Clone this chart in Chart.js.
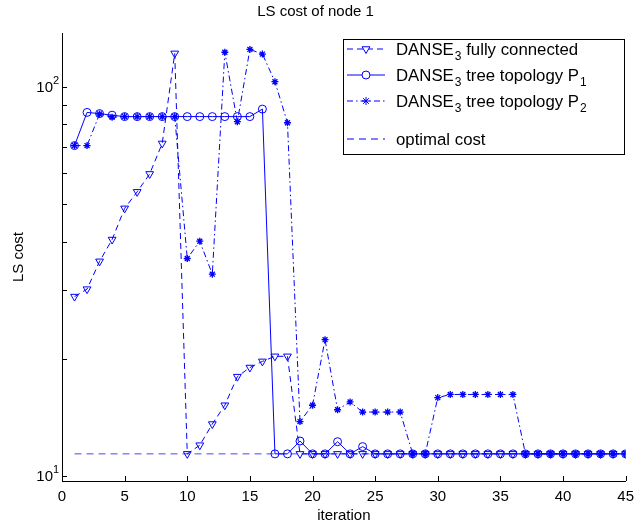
<!DOCTYPE html>
<html>
<head>
<meta charset="utf-8">
<script src="https://cdn.jsdelivr.net/npm/chart.js@4.4.0/dist/chart.umd.min.js"></script>
<style>
  html, body { margin: 0; padding: 0; background: #fff; }
</style>
</head>
<body>
<canvas id="ls-chart" width="641" height="525"></canvas>
<script>
// data
const iterations = [1, 2, 3, 4, 5, 6, 7, 8, 9, 10, 11, 12, 13, 14, 15, 16, 17, 18, 19, 20,
  21, 22, 23, 24, 25, 26, 27, 28, 29, 30, 31, 32, 33, 34, 35, 36, 37, 38, 39, 40,
  41, 42, 43, 44, 45];
const fullyConnected = [28.9, 30.2, 35.6, 40.5, 48.7, 53.7, 59.7, 71.5, 121.8, 11.4,
  12.0, 13.6, 15.2, 18.0, 19.0, 19.7, 20.3, 20.3, 11.4, 11.4,
  11.4, 11.4, 11.4, 11.4, 11.4, 11.4, 11.4, 11.4, 11.4, 11.4,
  11.4, 11.4, 11.4, 11.4, 11.4, 11.4, 11.4, 11.4, 11.4, 11.4,
  11.4, 11.4, 11.4, 11.4, 11.4];
const treeP1 = [70.6, 85.9, 85.3, 84.5, 83.8, 83.8, 83.8, 83.8, 83.8, 83.8,
  83.8, 83.8, 83.8, 83.8, 83.8, 87.6, 11.4, 11.4, 12.3, 11.4,
  11.4, 12.25, 11.4, 11.9, 11.4, 11.4, 11.4, 11.4, 11.4, 11.4,
  11.4, 11.4, 11.4, 11.4, 11.4, 11.4, 11.4, 11.4, 11.4, 11.4,
  11.4, 11.4, 11.4, 11.4, 11.4];
const treeP2 = [70.6, 70.6, 85.1, 83.5, 83.8, 83.8, 83.8, 83.8, 83.8, 36.2,
  40.1, 33.0, 122.6, 81.3, 124.7, 121.3, 103.0, 80.8, 13.8, 15.2,
  22.4, 14.8, 15.5, 14.6, 14.6, 14.6, 14.6, 11.4, 11.4, 15.9,
  16.2, 16.2, 16.2, 16.2, 16.2, 16.2, 11.4, 11.4, 11.4, 11.4,
  11.4, 11.4, 11.4, 11.4, 11.4];
const optimalIter = [1, 45];
const optimalCost = [11.4, 11.4];

const xTicks = [0, 5, 10, 15, 20, 25, 30, 35, 40, 45];
const yTicks = [10, 20, 30, 40, 50, 60, 70, 80, 90, 100];
const yLabels = { 10: "1", 100: "2" }; // exponent of 10
const yMin = 9.71;
const yMax = 137.4;

const FONT = "'Liberation Sans', Arial, sans-serif";
const BLUE = "#0000ff";

const toPoints = (xs, ys) => xs.map((x, i) => ({ x: x, y: ys[i] }));

// legend entries (drawn by hand because of the subscripts)
const legendItems = [
  { main: "DANSE", sub: "3", rest: " fully connected", sub2: "", dash: [6, 4], style: "triangle", rot: 180, r: 4.5 },
  { main: "DANSE", sub: "3", rest: " tree topology P", sub2: "1", dash: [], style: "circle", rot: 0, r: 4 },
  { main: "DANSE", sub: "3", rest: " tree topology P", sub2: "2", dash: [6, 3, 1.5, 3], style: "star", rot: 0, r: 4 },
  { main: "optimal cost", sub: "", rest: "", sub2: "", dash: [7, 5], style: false, rot: 0, r: 0 }
];

//! inward ticks + y labels with exponents
const axisDecor = {
  id: "axisDecor",
  afterDraw(chart) {
    const ctx = chart.ctx;
    const xs = chart.scales.x;
    const ys = chart.scales.y;
    const area = chart.chartArea;
    ctx.save();
    ctx.strokeStyle = "#000";
    ctx.lineWidth = 1;
    ctx.beginPath();
    xTicks.forEach(v => {
      const px = Math.round(xs.getPixelForValue(v)) + 0.5;
      ctx.moveTo(px, area.bottom);
      ctx.lineTo(px, area.bottom - 5);
    });
    yTicks.forEach(v => {
      const py = Math.round(ys.getPixelForValue(v)) + 0.5;
      ctx.moveTo(area.left, py);
      ctx.lineTo(area.left + 5, py);
    });
    ctx.stroke();

    ctx.fillStyle = "#000";
    Object.keys(yLabels).forEach(k => {
      const py = ys.getPixelForValue(Number(k));
      ctx.font = "15px " + FONT;
      ctx.textAlign = "right";
      ctx.textBaseline = "middle";
      ctx.fillText("10", area.left - 9, py + 1);
      ctx.font = "11px " + FONT;
      ctx.textAlign = "left";
      ctx.fillText(yLabels[k], area.left - 9, py - 6);
    });
    ctx.restore();
  }
};

const customLegend = {
  id: "customLegend",
  afterDraw(chart) {
    const ctx = chart.ctx;
    const box = { x: 343.5, y: 39.5, w: 281, h: 115 };
    ctx.save();
    ctx.fillStyle = "#fff";
    ctx.fillRect(box.x, box.y, box.w, box.h);
    ctx.strokeStyle = "#000";
    ctx.lineWidth = 1;
    ctx.strokeRect(box.x, box.y, box.w, box.h);

    const rows = [49, 75, 101, 139];
    legendItems.forEach((it, i) => {
      const y = rows[i];
      ctx.strokeStyle = BLUE;
      ctx.lineWidth = 1;
      ctx.setLineDash(it.dash);
      ctx.beginPath();
      ctx.moveTo(347, y);
      ctx.lineTo(385, y);
      ctx.stroke();
      ctx.setLineDash([]);
      if (it.style) {
        ctx.fillStyle = "#fff";
        Chart.helpers.drawPoint(ctx, { pointStyle: it.style, rotation: it.rot, radius: it.r, borderWidth: 1 }, 366, y);
      }
      ctx.fillStyle = "#000";
      ctx.textBaseline = "alphabetic";
      ctx.textAlign = "left";
      let x = 396;
      const base = y + 6;
      ctx.font = "16.8px " + FONT;
      ctx.fillText(it.main, x, base);
      x += ctx.measureText(it.main).width;
      if (it.sub) {
        ctx.font = "12px " + FONT;
        ctx.fillText(it.sub, x + 1, base + 5);
        x += ctx.measureText(it.sub).width + 1;
      }
      if (it.rest) {
        ctx.font = "16.8px " + FONT;
        ctx.fillText(it.rest, x, base);
        x += ctx.measureText(it.rest).width;
      }
      if (it.sub2) {
        ctx.font = "12px " + FONT;
        ctx.fillText(it.sub2, x + 1, base + 5);
      }
    });
    ctx.restore();
  }
};

const config = {
  type: "line",
  data: {
    datasets: [
      {
        label: "DANSE3 fully connected",
        data: toPoints(iterations, fullyConnected),
        borderColor: BLUE,
        borderWidth: 1,
        borderDash: [6, 4],
        pointStyle: "triangle",
        rotation: 180,
        pointRadius: 4.5,
        pointBorderColor: BLUE,
        pointBackgroundColor: "rgba(0,0,0,0)",
        pointBorderWidth: 1,
        tension: 0
      },
      {
        label: "DANSE3 tree topology P1",
        data: toPoints(iterations, treeP1),
        borderColor: BLUE,
        borderWidth: 1,
        pointStyle: "circle",
        pointRadius: 4,
        pointBorderColor: BLUE,
        pointBackgroundColor: "rgba(0,0,0,0)",
        pointBorderWidth: 1,
        tension: 0
      },
      {
        label: "DANSE3 tree topology P2",
        data: toPoints(iterations, treeP2),
        borderColor: BLUE,
        borderWidth: 1,
        borderDash: [6, 3, 1.5, 3],
        pointStyle: "star",
        pointRadius: 3.5,
        pointBorderColor: BLUE,
        pointBorderWidth: 1.3,
        tension: 0
      },
      {
        label: "optimal cost",
        data: toPoints(optimalIter, optimalCost),
        borderColor: "rgba(40,40,255,0.85)",
        borderWidth: 1,
        borderDash: [7, 5],
        pointRadius: 0,
        tension: 0
      }
    ]
  },
  options: {
    responsive: false,
    animation: false,
    layout: { padding: { left: 0, right: 10, top: 0, bottom: 0 } },
    plugins: {
      legend: { display: false },
      tooltip: { enabled: false },
      title: {
        display: true,
        text: "LS cost of node 1",
        color: "#000",
        font: { family: FONT, size: 15, weight: "normal" },
        padding: { top: 3, bottom: 12 }
      }
    },
    scales: {
      x: {
        type: "linear",
        min: 0,
        max: 45,
        afterBuildTicks: s => { s.ticks = xTicks.map(v => ({ value: v })); },
        afterFit: s => { s.height = 44; },
        grid: { display: false, drawTicks: false },
        border: { display: true, color: "#000", width: 1 },
        ticks: { color: "#000", font: { family: FONT, size: 15 }, padding: 7, maxRotation: 0 },
        title: {
          display: true,
          text: "iteration",
          color: "#000",
          font: { family: FONT, size: 15 },
          padding: { top: 0, bottom: 0 }
        }
      },
      y: {
        type: "logarithmic",
        min: yMin,
        max: yMax,
        afterBuildTicks: s => { s.ticks = yTicks.map(v => ({ value: v })); },
        afterFit: s => { s.width = 62; },
        grid: { display: false, drawTicks: false },
        border: { display: true, color: "#000", width: 1 },
        ticks: { display: false },
        title: {
          display: true,
          text: "LS cost",
          color: "#000",
          font: { family: FONT, size: 15 },
          padding: { top: 10, bottom: 0 }
        }
      }
    }
  },
  plugins: [axisDecor, customLegend]
};

const ctx = document.getElementById("ls-chart").getContext("2d");
const lsChart = new Chart(ctx, config);
</script>
</body>
</html>
